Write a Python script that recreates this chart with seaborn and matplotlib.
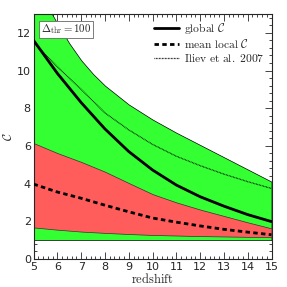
import numpy as np
import pandas as pd
import matplotlib
matplotlib.use("Agg")
import matplotlib.pyplot as plt
import seaborn as sns
from matplotlib.ticker import MultipleLocator, AutoMinorLocator

# redshift grid and curves
redshift = [5, 6, 7, 8, 9, 10, 11, 12, 13, 14, 15]
global_c = [11.6, 9.85, 8.3, 6.9, 5.7, 4.72, 3.92, 3.3, 2.8, 2.35, 1.98]
mean_local_c = [3.97, 3.55, 3.22, 2.85, 2.5, 2.17, 1.95, 1.75, 1.57, 1.42, 1.28]
iliev_c = [11.5, 10.2, 9.0, 7.75, 6.85, 6.08, 5.45, 4.95, 4.5, 4.1, 3.74]

# red band (local spread)
red_low = [1.67, 1.55, 1.45, 1.38, 1.32, 1.27, 1.24, 1.21, 1.19, 1.17, 1.15]
red_high = [6.15, 5.62, 5.15, 4.63, 4.03, 3.44, 3.0, 2.62, 2.28, 1.94, 1.62]

# green band (full range)
green_z = [5, 5.5, 6, 6.5, 7, 7.5, 8, 9, 10, 11, 12, 13, 14, 15]
green_high = [15.0, 13.6, 12.5, 11.45, 10.55, 9.82, 9.2, 8.2, 7.4, 6.7, 6.05, 5.4, 4.75, 4.1]
green_low = [1.0] * len(green_z)

sns.set_style("ticks")
plt.rcParams['mathtext.fontset'] = 'cm'
plt.rcParams['font.family'] = ['DejaVu Sans']

fig = plt.figure(figsize=(2.87, 2.87), dpi=100)
ax = fig.add_axes([0.117, 0.098, 0.829, 0.853])

ax.fill_between(green_z, green_low, green_high, color='#33ff33',
                edgecolor='k', linewidth=0.5, zorder=1)
ax.fill_between(redshift, red_low, red_high, color='#ff5c5c',
                edgecolor='#333333', linewidth=0.5, zorder=2)

df = pd.DataFrame({'z': redshift, 'global': global_c,
                   'local': mean_local_c, 'iliev': iliev_c})

sns.lineplot(data=df, x='z', y='global', ax=ax, color='k', lw=2.0,
             label=r'$\mathrm{global}\ \mathcal{C}$', zorder=4)
sns.lineplot(data=df, x='z', y='local', ax=ax, color='k', lw=2.0,
             label=r'$\mathrm{mean\ local}\ \mathcal{C}$', zorder=4)
sns.lineplot(data=df, x='z', y='iliev', ax=ax, color='k', lw=0.9,
             label=r'$\mathrm{Iliev\ et\ al.\ 2007}$', zorder=3)
ax.lines[1].set_linestyle((0, (1.6, 1.2)))
ax.lines[2].set_linestyle((0, (0.6, 0.6)))

ax.set_xlim(5, 15)
ax.set_ylim(0, 13)
ax.xaxis.set_major_locator(MultipleLocator(1))
ax.xaxis.set_minor_locator(AutoMinorLocator(5))
ax.yaxis.set_major_locator(MultipleLocator(2))
ax.yaxis.set_minor_locator(AutoMinorLocator(5))
ax.tick_params(which='both', direction='in', top=True, right=True,
               labelsize=8, pad=2, width=0.6)
ax.tick_params(which='major', length=5)
ax.tick_params(which='minor', length=2.5)
for s in ax.spines.values():
    s.set_linewidth(0.8)

ax.set_xlabel(r'$\mathrm{redshift}$', fontsize=9, labelpad=0)
ax.set_ylabel(r'$\mathcal{C}$', fontsize=9, labelpad=1)

ax.text(0.03, 0.965, r'$\Delta_{\rm thr}=100$', transform=ax.transAxes,
        fontsize=7.8, va='top', ha='left', zorder=6,
        bbox=dict(boxstyle='square,pad=0.15', fc='white', ec='0.4', lw=0.6))

ax.legend(loc='upper right', frameon=False, fontsize=8.3, handlelength=2.2,
          handletextpad=0.4, labelspacing=0.15, borderaxespad=0.2,
          bbox_to_anchor=(1.0, 1.0))

fig.savefig('out.png', dpi=100)
